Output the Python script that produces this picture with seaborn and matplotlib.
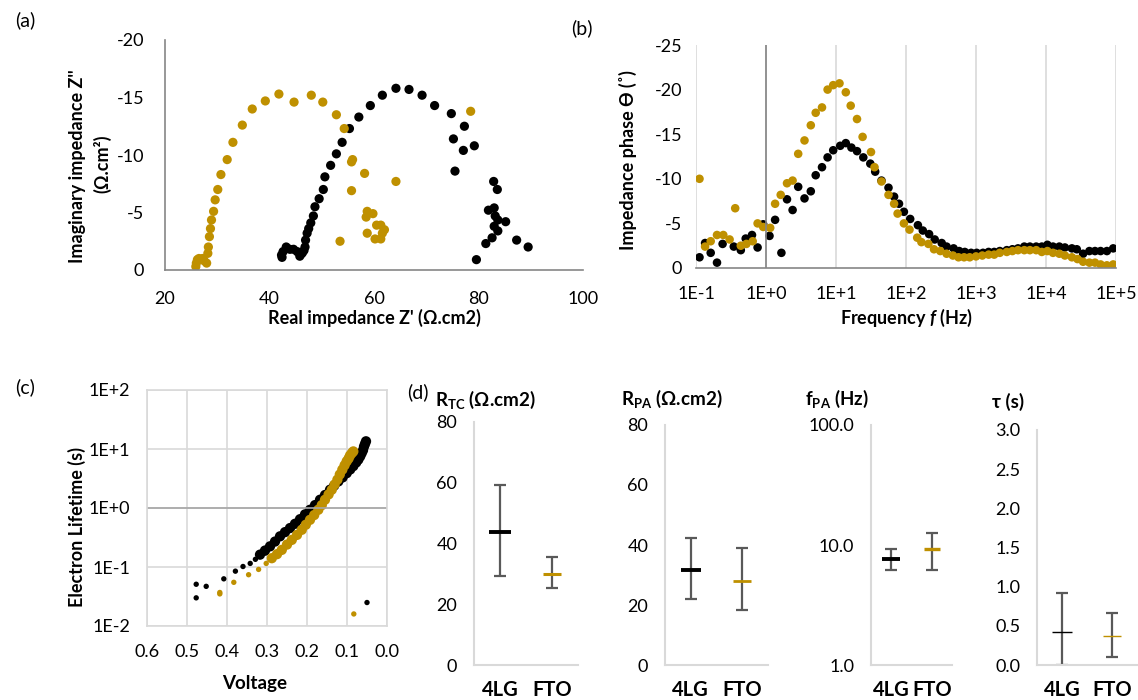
import numpy as np
import pandas as pd
import matplotlib
matplotlib.use("Agg")
import matplotlib.pyplot as plt
import seaborn as sns
from matplotlib.ticker import FixedLocator, FuncFormatter, NullLocator

# ---------------- data ----------------
# (a) Nyquist: real Z' and imaginary Z'' (Ohm.cm2)
a_4lg_re = [42.3, 42.4, 42.6, 43.2, 43.9, 44.6, 45.3, 45.8, 46.1, 46.3, 46.6, 46.8, 46.9, 47.2, 47.5,
            47.9, 48.4, 48.7, 49.5, 50.3, 50.6, 51.7, 52.8, 53.9, 55.3, 57.1, 59.3, 61.6, 64.2,
            66.7, 69.2, 71.6, 74.8, 77.3, 75.2, 77.1, 79.2, 75.5, 82.9, 83.6, 81.9, 83.0, 83.2,
            85.2, 83.7, 83.0, 83.7, 82.6, 81.4, 87.3, 89.5, 79.6]
a_4lg_im = [-1.3, -1.1, -1.6, -2.0, -1.8, -1.8, -1.6, -1.2, -1.4, -1.5, -1.7, -2.0, -2.6, -3.2, -3.6,
            -4.1, -4.7, -5.5, -6.2, -7.0, -8.1, -9.1, -10.1, -11.1, -12.3, -13.3, -14.3, -15.2, -15.8,
            -15.7, -15.2, -14.3, -13.6, -12.5, -11.4, -10.4, -10.8, -8.6, -7.7, -7.0, -5.2, -5.4, -4.7,
            -4.2, -4.35, -3.8, -3.4, -2.8, -2.3, -2.6, -2.0, -0.9]
a_fto_re = [25.9, 26.0, 26.2, 26.5, 27.2, 27.5, 27.97, 28.2, 28.3, 28.5, 28.7, 28.9, 29.3, 29.6, 30.1,
            30.7, 31.9, 33.0, 34.8, 36.7, 39.2, 41.8, 44.7, 48.0, 50.2, 52.8, 54.3, 55.7, 55.9,
            58.2, 64.2, 78.5, 55.7, 53.5, 58.7, 59.8, 58.5, 58.7, 60.5, 61.3, 62.0, 61.6, 60.2, 61.3]
a_fto_im = [-0.3, -0.6, -0.9, -1.0, -1.0, -0.8, -0.6, -1.45, -2.0, -2.9, -3.6, -4.35, -5.1, -6.1, -7.0,
            -8.3, -9.6, -11.1, -12.6, -14.0, -14.7, -15.3, -14.6, -15.2, -14.6, -13.5, -12.3, -9.4, -9.6,
            -8.4, -7.7, -13.8, -6.9, -2.5, -5.1, -4.9, -4.6, -3.2, -3.9, -3.9, -3.5, -3.2, -2.7, -2.7]

# (b) Bode phase: log10(frequency / Hz) and phase (deg)
b_4lg_logf = [-0.95, -0.87, -0.79, -0.70, -0.62, -0.46, -0.36, -0.29, -0.20, -0.12, -0.04, 0.05, 0.13,
              0.22, 0.30, 0.38, 0.46, 0.55, 0.64, 0.71, 0.80, 0.88, 0.96, 1.06, 1.14, 1.22, 1.30,
              1.39, 1.49, 1.56, 1.65, 1.75, 1.83, 1.90, 1.97, 2.06, 2.17, 2.24, 2.33, 2.41, 2.51,
              2.58, 2.68, 2.76, 2.84, 2.93, 3.01, 3.10, 3.18, 3.26, 3.34, 3.44, 3.52, 3.60, 3.69,
              3.77, 3.86, 3.94, 4.02, 4.10, 4.19, 4.27, 4.37, 4.44, 4.53, 4.62, 4.70, 4.78, 4.87, 4.96]
b_4lg_phase = [-1.2, -2.8, -1.7, -0.6, -2.7, -2.4, -2.0, -3.3, -3.7, -2.3, -4.9, -3.6, -5.4,
               -1.7, -7.7, -6.5, -9.1, -7.8, -8.6, -10.4, -11.3, -12.4, -13.2, -13.7, -14.0, -13.5, -13.1,
               -12.4, -11.7, -10.8, -9.8, -9.0, -8.0, -7.2, -6.3, -5.5, -4.8, -4.2, -3.8, -3.2, -2.8,
               -2.4, -2.2, -1.9, -1.8, -1.7, -1.7, -1.7, -1.8, -1.8, -1.9, -2.0, -2.1, -2.2, -2.4,
               -2.4, -2.4, -2.4, -2.6, -2.4, -2.4, -2.3, -2.2, -2.1, -1.6, -1.9, -1.9, -1.9, -1.9, -2.2]
b_fto_logf = [-0.95, -0.87, -0.79, -0.70, -0.61, -0.52, -0.44, -0.36, -0.28, -0.19, -0.12, -0.04, 0.06,
              0.13, 0.21, 0.30, 0.38, 0.46, 0.55, 0.64, 0.71, 0.80, 0.88, 0.96, 1.05, 1.14, 1.21,
              1.30, 1.38, 1.50, 1.55, 1.65, 1.75, 1.83, 1.88, 1.97, 2.05, 2.16, 2.22, 2.32, 2.40,
              2.49, 2.58, 2.67, 2.75, 2.83, 2.91, 3.00, 3.09, 3.18, 3.26, 3.34, 3.44, 3.52, 3.60,
              3.69, 3.77, 3.86, 3.94, 4.02, 4.10, 4.19, 4.27, 4.37, 4.45, 4.53, 4.62, 4.70, 4.78, 4.87, 4.96]
b_fto_phase = [-10.0, -2.4, -3.0, -3.7, -3.7, -3.2, -6.7, -2.5, -2.7, -3.0, -5.0, -4.6, -4.5,
               -7.2, -8.2, -9.5, -9.8, -12.8, -14.3, -16.0, -17.4, -18.0, -20.0, -20.5, -20.7, -19.7, -18.2,
               -16.7, -14.7, -13.0, -11.3, -9.7, -8.2, -7.2, -6.1, -5.0, -4.3, -3.4, -2.9, -2.7, -2.1,
               -1.9, -1.6, -1.4, -1.2, -1.2, -1.2, -1.3, -1.4, -1.5, -1.5, -1.7, -1.8, -1.9, -2.0,
               -2.0, -2.0, -2.0, -1.8, -1.9, -1.7, -1.6, -1.4, -1.2, -1.0, -0.7, -0.6, -0.6, -0.4, -0.3, -0.4]

# (c) electron lifetime vs voltage
c_4lg_v_sparse = [0.477, 0.477, 0.452, 0.408, 0.379, 0.360, 0.342, 0.329, 0.314, 0.304, 0.050]
c_4lg_tau_sparse = [0.051, 0.030, 0.047, 0.063, 0.085, 0.102, 0.115, 0.135, 0.159, 0.174, 0.025]
c_4lg_v_curve = [0.3175, 0.305, 0.2925, 0.28, 0.2675, 0.255, 0.2425, 0.23, 0.2175, 0.205, 0.1925,
                 0.18, 0.1675, 0.155, 0.1425, 0.132, 0.1217, 0.111, 0.1008, 0.092, 0.0842, 0.077,
                 0.0717, 0.067, 0.0633, 0.060, 0.0575, 0.055, 0.0525]
c_4lg_tau_curve = [0.162, 0.19, 0.224, 0.27, 0.331, 0.39, 0.457, 0.54, 0.646, 0.78, 0.933,
                   1.12, 1.38, 1.66, 2.04, 2.4, 2.82, 3.3, 3.89, 4.5, 5.13, 5.9,
                   6.6, 7.5, 8.5, 9.5, 11.0, 12.2, 13.5]
c_fto_v_sparse = [0.418, 0.418, 0.383, 0.346, 0.321, 0.302, 0.277, 0.267, 0.257, 0.248, 0.083]
c_fto_tau_sparse = [0.037, 0.035, 0.055, 0.074, 0.091, 0.115, 0.155, 0.18, 0.21, 0.245, 0.016]
c_fto_v_curve = [0.288, 0.275, 0.263, 0.25, 0.238, 0.225, 0.213, 0.203, 0.1925, 0.182, 0.1717,
                 0.163, 0.155, 0.146, 0.138, 0.131, 0.124, 0.118, 0.1117, 0.106, 0.1008, 0.096,
                 0.0925, 0.088, 0.0842]
c_fto_tau_curve = [0.141, 0.165, 0.195, 0.24, 0.288, 0.35, 0.427, 0.52, 0.63, 0.76, 0.933,
                   1.12, 1.38, 1.7, 2.04, 2.5, 3.02, 3.7, 4.47, 5.3, 6.17, 6.9,
                   7.76, 8.5, 9.1]

# (d) summary statistics: mean, low, high
groups = ["4LG", "FTO"]
rtc_mean = [43.7, 29.8]; rtc_lo = [29.3, 25.4]; rtc_hi = [59.4, 35.6]
rpa_mean = [31.7, 27.9]; rpa_lo = [22.0, 18.2]; rpa_hi = [42.2, 38.9]
fpa_mean = [7.6, 9.2]; fpa_lo = [6.2, 6.2]; fpa_hi = [9.3, 12.5]
tau_mean = [0.42, 0.375]; tau_lo = [0.0, 0.10]; tau_hi = [0.915, 0.66]

# ---------------- style ----------------
sns.set_theme(style="white")
plt.rcParams["font.family"] = ["Lato", "DejaVu Sans"]
plt.rcParams["axes.unicode_minus"] = False
plt.rcParams["mathtext.fontset"] = "custom"
plt.rcParams["mathtext.rm"] = "Lato"
plt.rcParams["mathtext.bf"] = "Lato:bold"
plt.rcParams["mathtext.it"] = "Lato:italic"
try:
    plt.rcParams["mathtext.bfit"] = "Lato:italic:bold"
except Exception:
    pass

BLACK = "#000000"
GOLD = "#BF9000"
AXIS = "#868686"
LIGHT = "#D9D9D9"
BAR = "#595959"
TXT = "#000000"

W, H = 1138, 700
fig = plt.figure(figsize=(W / 100, H / 100), dpi=100)


def box(l, t, r, b):
    return [l / W, 1 - b / H, (r - l) / W, (b - t) / H]


def ftext(x, y, s, **kw):
    kw.setdefault("ha", "center")
    kw.setdefault("va", "center")
    kw.setdefault("color", TXT)
    return fig.text(x / W, 1 - y / H, s, **kw)


# ---------------- (a) ----------------
ax = fig.add_axes(box(165, 40, 583, 270))
sns.scatterplot(x=a_4lg_re, y=a_4lg_im, color=BLACK, s=44, edgecolor="none", ax=ax, legend=False)
sns.scatterplot(x=a_fto_re, y=a_fto_im, color=GOLD, s=44, edgecolor="none", ax=ax, legend=False)
ax.set_xlim(20, 100)
ax.set_ylim(0, -20)
ax.set_xticks([20, 40, 60, 80, 100])
ax.set_yticks([0, -5, -10, -15, -20])
for s in ["top", "right"]:
    ax.spines[s].set_visible(False)
for s in ["left", "bottom"]:
    ax.spines[s].set_color(AXIS)
    ax.spines[s].set_linewidth(1.2)
ax.tick_params(axis="both", direction="out", length=5, width=1.2, color=AXIS, labelsize=13,
               labelcolor=TXT)
ax.tick_params(axis="x", pad=10)
ax.tick_params(axis="y", pad=10)
ax.set_xlabel("")
ax.set_ylabel("")
ftext(374, 318, "Real impedance Z' (Ω.cm2)", fontsize=13, fontweight="bold")
ftext(77, 166, "Imaginary impedance Z''", rotation=90, fontsize=13, fontweight="bold")
ftext(102, 164, "(Ω.cm²)", rotation=90, fontsize=13, fontweight="bold")
ftext(25, 20, "(a)", fontsize=14)

# ---------------- (b) ----------------
ax = fig.add_axes(box(696, 45, 1116, 268))
sns.scatterplot(x=10 ** np.array(b_4lg_logf), y=b_4lg_phase, color=BLACK, s=38, edgecolor="none",
                ax=ax, legend=False)
sns.scatterplot(x=10 ** np.array(b_fto_logf), y=b_fto_phase, color=GOLD, s=38, edgecolor="none",
                ax=ax, legend=False)
ax.set_xscale("log")
ax.set_xlim(0.1, 1e5)
ax.set_ylim(0, -25)
ax.xaxis.set_major_locator(FixedLocator([1e-1, 1e0, 1e1, 1e2, 1e3, 1e4, 1e5]))
ax.xaxis.set_minor_locator(NullLocator())
ax.xaxis.set_major_formatter(FuncFormatter(lambda v, p: "1E%+d" % int(round(np.log10(v)))))
ax.set_yticks([0, -5, -10, -15, -20, -25])
ax.grid(True, axis="x", color=LIGHT, lw=1.2)
ax.set_axisbelow(True)
for s in ["top", "right", "left"]:
    ax.spines[s].set_visible(False)
ax.spines["bottom"].set_color(AXIS)
ax.spines["bottom"].set_linewidth(1.2)
ax.axvline(1, color=AXIS, lw=1.2, zorder=1)
ax.tick_params(axis="both", length=0, labelsize=13, labelcolor=TXT)
ax.tick_params(axis="x", pad=13)
ax.tick_params(axis="y", pad=10)
ax.set_xlabel("")
ax.set_ylabel("")
ftext(906, 318, r"Frequency $\mathbfit{f}$ (Hz)", fontsize=13, fontweight="bold")
ftext(628, 160, "Impedance phase ϴ (˚)", rotation=90, fontsize=13, fontweight="bold")
ftext(582, 28, "(b)", fontsize=14)

# ---------------- (c) ----------------
ax = fig.add_axes(box(147, 390, 387, 626))
ax.set_yscale("log")
sns.scatterplot(x=c_4lg_v_sparse, y=c_4lg_tau_sparse, color=BLACK, s=15, edgecolor="none", ax=ax,
                legend=False)
sns.scatterplot(x=c_4lg_v_curve, y=c_4lg_tau_curve, color=BLACK, s=55, edgecolor="none", ax=ax,
                legend=False)
sns.scatterplot(x=c_fto_v_sparse, y=c_fto_tau_sparse, color=GOLD, s=15, edgecolor="none", ax=ax,
                legend=False)
sns.scatterplot(x=c_fto_v_curve, y=c_fto_tau_curve, color=GOLD, s=55, edgecolor="none", ax=ax,
                legend=False)
ax.set_xlim(0.6, 0.0)
ax.set_ylim(1e-2, 1e2)
ax.set_xticks([0.6, 0.5, 0.4, 0.3, 0.2, 0.1, 0.0])
ax.xaxis.set_major_formatter(FuncFormatter(lambda v, p: "%.1f" % abs(v)))
ax.yaxis.set_major_locator(FixedLocator([1e-2, 1e-1, 1e0, 1e1, 1e2]))
ax.yaxis.set_minor_locator(NullLocator())
ax.yaxis.set_major_formatter(FuncFormatter(lambda v, p: "1E%+d" % int(round(np.log10(v)))))
ax.grid(True, which="major", color=LIGHT, lw=1.2)
ax.set_axisbelow(True)
for s in ax.spines.values():
    s.set_color(LIGHT)
    s.set_linewidth(1.2)
ax.axhline(1, color="#A6A6A6", lw=1.2, zorder=1)
ax.tick_params(axis="both", length=0, labelsize=13, labelcolor=TXT)
ax.tick_params(axis="x", pad=13)
ax.tick_params(axis="y", pad=12)
ax.set_xlabel("")
ax.set_ylabel("")
ftext(255, 683, "Voltage", fontsize=13.5, fontweight="bold")
ftext(77, 527, "Electron Lifetime (s)", rotation=90, fontsize=13, fontweight="bold")
ftext(25, 387, "(c)", fontsize=14)

# ---------------- (d) ----------------
ftext(418, 392, "(d)", fontsize=14)


def summary_panel(rect, mean, lo, hi, ylim, yticks, ylabels, title, title_xy, dash_w, dash_lw,
                  log=False):
    ax = fig.add_axes(box(*rect))
    if log:
        ax.set_yscale("log")
    for i, (m, l, h) in enumerate(zip(mean, lo, hi)):
        ax.errorbar([i], [m], yerr=[[m - l], [h - m]], fmt="none", ecolor=BAR, elinewidth=1.6,
                    capsize=4.5, capthick=1.6, zorder=2)
    cols = [BLACK, GOLD]
    for i in range(2):
        sns.scatterplot(x=[i], y=[mean[i]], marker="_", s=dash_w[i] ** 2, linewidth=dash_lw[i],
                        color=cols[i], edgecolor=cols[i], ax=ax, legend=False, zorder=3)
    ax.set_xlim(-0.5, 1.5)
    ax.set_ylim(*ylim)
    ax.yaxis.set_major_locator(FixedLocator(yticks))
    ax.yaxis.set_minor_locator(NullLocator())
    ax.set_yticklabels(ylabels)
    ax.set_xticks([0, 1])
    ax.set_xticklabels(groups, fontweight="bold", fontsize=14.5)
    ax.set_xticks([-0.5, 0.5, 1.5], minor=True)
    for s in ["top", "right"]:
        ax.spines[s].set_visible(False)
    for s in ["left", "bottom"]:
        ax.spines[s].set_color(LIGHT)
        ax.spines[s].set_linewidth(1.5)
    ax.tick_params(axis="y", direction="out", length=5, width=1.5, color=LIGHT, labelsize=13,
                   labelcolor=TXT, pad=7)
    ax.tick_params(axis="x", which="major", length=0, pad=11, labelcolor=TXT)
    ax.tick_params(axis="x", which="minor", direction="out", length=7, width=1.5, color=LIGHT)
    ax.set_xlabel("")
    ax.set_ylabel("")
    ftext(title_xy[0], title_xy[1], title, ha="left", fontsize=13.5, fontweight="bold")
    return ax


summary_panel((474, 422, 578, 665), rtc_mean, rtc_lo, rtc_hi, (0, 80), [0, 20, 40, 60, 80],
              ["0", "20", "40", "60", "80"], r"R$_{\mathbf{TC}}$ (Ω.cm2)", (435, 400),
              (15.5, 13.5), (2.8, 2.2))
summary_panel((665, 425, 768, 665), rpa_mean, rpa_lo, rpa_hi, (0, 80), [0, 20, 40, 60, 80],
              ["0", "20", "40", "60", "80"], r"R$_{\mathbf{PA}}$ (Ω.cm2)", (621, 399),
              (15, 13), (2.8, 2.0))
summary_panel((871, 425, 952, 665), fpa_mean, fpa_lo, fpa_hi, (1, 100), [1, 10, 100],
              ["1.0", "10.0", "100.0"], r"f$_{\mathbf{PA}}$ (Hz)", (805, 399),
              (12.5, 11), (2.8, 2.4), log=True)
summary_panel((1037, 430, 1137, 665), tau_mean, tau_lo, tau_hi, (0, 3),
              [0, 0.5, 1.0, 1.5, 2.0, 2.5, 3.0],
              ["0.0", "0.5", "1.0", "1.5", "2.0", "2.5", "3.0"], "τ (s)", (992, 402),
              (14, 13), (1.0, 1.0))

fig.savefig("out.png", dpi=100)
